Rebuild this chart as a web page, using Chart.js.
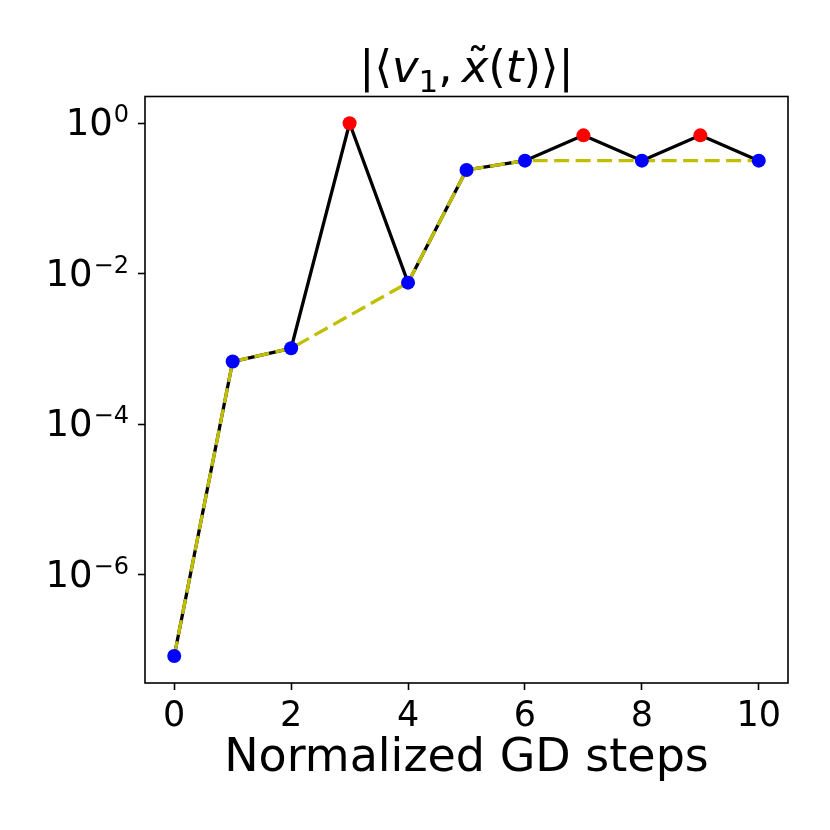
<!DOCTYPE html>
<html>
<head>
<meta charset="utf-8">
<script src="https://cdn.jsdelivr.net/npm/chart.js@4.4.1/dist/chart.umd.min.js"></script>
<style>
  html, body { margin: 0; padding: 0; background: #fff; }
  #wrap { width: 830px; height: 830px; }
</style>
</head>
<body>
<div id="wrap"><canvas id="c" width="830" height="830"></canvas></div>
<script>
// values
const steps = [0, 1, 2, 3, 4, 5, 6, 7, 8, 9, 10];
const fullValues = [8.3e-8, 6.8e-4, 1.02e-3, 1.0, 7.6e-3, 0.239, 0.318, 0.69, 0.318, 0.69, 0.318];
const cleanSteps = [0, 1, 2, 4, 5, 6, 8, 10];
const cleanValues = [8.3e-8, 6.8e-4, 1.02e-3, 7.6e-3, 0.239, 0.318, 0.318, 0.318];
const spikeSteps = [3, 7, 9];
const xTicks = [0, 2, 4, 6, 8, 10];
const yTickExponents = [0, -2, -4, -6];

const FONT = 'DejaVu Sans';
const spikeSet = new Set(spikeSteps);

// black box round the plot area (drawn above the lines like matplotlib spines)
const framePlugin = {
  id: 'frame',
  afterDatasetsDraw(chart) {
    const { ctx, chartArea: a } = chart;
    ctx.save();
    ctx.strokeStyle = '#000';
    ctx.lineWidth = 1.6;
    ctx.strokeRect(a.left, a.top, a.right - a.left, a.bottom - a.top);
    ctx.restore();
  }
};

// 10^k labels with a real superscript, placed by the y scale
const logLabelPlugin = {
  id: 'logLabels',
  afterDraw(chart) {
    const { ctx } = chart;
    const y = chart.scales.y;
    const right = 128;
    ctx.save();
    ctx.fillStyle = '#000';
    ctx.textBaseline = 'alphabetic';
    yTickExponents.forEach(e => {
      const py = y.getPixelForValue(Math.pow(10, e));
      const sup = e < 0 ? '\u2212' + Math.abs(e) : String(e);
      ctx.font = '24px "' + FONT + '"';
      const ws = ctx.measureText(sup).width;
      ctx.font = '37px "' + FONT + '"';
      const wb = ctx.measureText('10').width;
      const x0 = right - ws - wb;
      ctx.textAlign = 'left';
      ctx.fillText('10', x0, py + 12);
      ctx.font = '24px "' + FONT + '"';
      ctx.fillText(sup, x0 + wb + 1, py - 1);
    });
    ctx.restore();
  }
};

// math style title |<v_1, x~(t)>|
const titlePlugin = {
  id: 'mathTitle',
  afterDraw(chart) {
    const { ctx, chartArea: a } = chart;
    const size = 45;
    const base = 82;
    const up = size + 'px "' + FONT + '"';
    const it = 'italic ' + size + 'px "' + FONT + '"';
    const sub = Math.round(size * 0.7) + 'px "' + FONT + '"';
    const parts = [
      { t: '|\u27E8', f: up, dy: 0 },
      { t: 'v', f: it, dy: 0 },
      { t: '1', f: sub, dy: 10 },
      { t: ',\u2009', f: up, dy: 0 },
      { t: 'x', f: it, dy: 0, tilde: true },
      { t: '(', f: up, dy: 0 },
      { t: 't', f: it, dy: 0 },
      { t: ')\u27E9|', f: up, dy: 0 }
    ];
    ctx.save();
    ctx.fillStyle = '#000';
    ctx.textBaseline = 'alphabetic';
    ctx.textAlign = 'left';
    let total = 0;
    parts.forEach(p => { ctx.font = p.f; p.w = ctx.measureText(p.t).width; total += p.w; });
    let x = (a.left + a.right) / 2 - total / 2;
    parts.forEach(p => {
      ctx.font = p.f;
      ctx.fillText(p.t, x, base + p.dy);
      if (p.tilde) {
        ctx.font = up;
        ctx.textAlign = 'center';
        ctx.fillText('\u02DC', x + p.w / 2 + 3, base - 2);
        ctx.textAlign = 'left';
      }
      x += p.w;
    });
    ctx.restore();
  }
};

new Chart(document.getElementById('c'), {
  type: 'line',
  data: {
    datasets: [
      {
        label: 'markers',
        data: steps.map((s, i) => ({ x: s, y: fullValues[i] })),
        showLine: false,
        pointRadius: 7,
        pointBorderWidth: 0,
        pointBackgroundColor: steps.map(s => spikeSet.has(s) ? '#ff0000' : '#0000ff'),
        order: 0
      },
      {
        label: 'clean',
        data: cleanSteps.map((s, i) => ({ x: s, y: cleanValues[i] })),
        borderColor: '#bfbf00',
        borderWidth: 3.3,
        borderDash: [15, 6.5],
        pointRadius: 0,
        tension: 0,
        order: 1
      },
      {
        label: 'full',
        data: steps.map((s, i) => ({ x: s, y: fullValues[i] })),
        borderColor: '#000000',
        borderWidth: 3.3,
        pointRadius: 0,
        tension: 0,
        order: 2
      }
    ]
  },
  options: {
    responsive: false,
    animation: false,
    devicePixelRatio: 1,
    layout: { padding: { left: 0, right: 42, top: 96.5, bottom: 0 } },
    plugins: {
      legend: { display: false },
      tooltip: { enabled: false }
    },
    scales: {
      x: {
        type: 'linear',
        min: -0.5,
        max: 10.5,
        afterBuildTicks: s => { s.ticks = xTicks.map(v => ({ value: v })); },
        afterFit: s => { s.height = 147; },
        ticks: { font: { family: FONT, size: 35 }, color: '#000', padding: 6, maxRotation: 0, autoSkip: false },
        grid: { drawOnChartArea: false, tickLength: 7, tickColor: '#000', tickWidth: 1.6 },
        border: { display: false },
        title: {
          display: true,
          text: 'Normalized GD steps',
          font: { family: FONT, size: 46 },
          color: '#000',
          padding: { top: 0, bottom: 43 }
        }
      },
      y: {
        type: 'logarithmic',
        min: Math.pow(10, -7.44),
        max: Math.pow(10, 0.355),
        afterBuildTicks: s => { s.ticks = yTickExponents.map(e => ({ value: Math.pow(10, e) })); },
        afterFit: s => { s.width = 145; },
        ticks: { callback: () => '', autoSkip: false },
        grid: { drawOnChartArea: false, tickLength: 7, tickColor: '#000', tickWidth: 1.6 },
        border: { display: false }
      }
    }
  },
  plugins: [framePlugin, logLabelPlugin, titlePlugin]
});
</script>
</body>
</html>
